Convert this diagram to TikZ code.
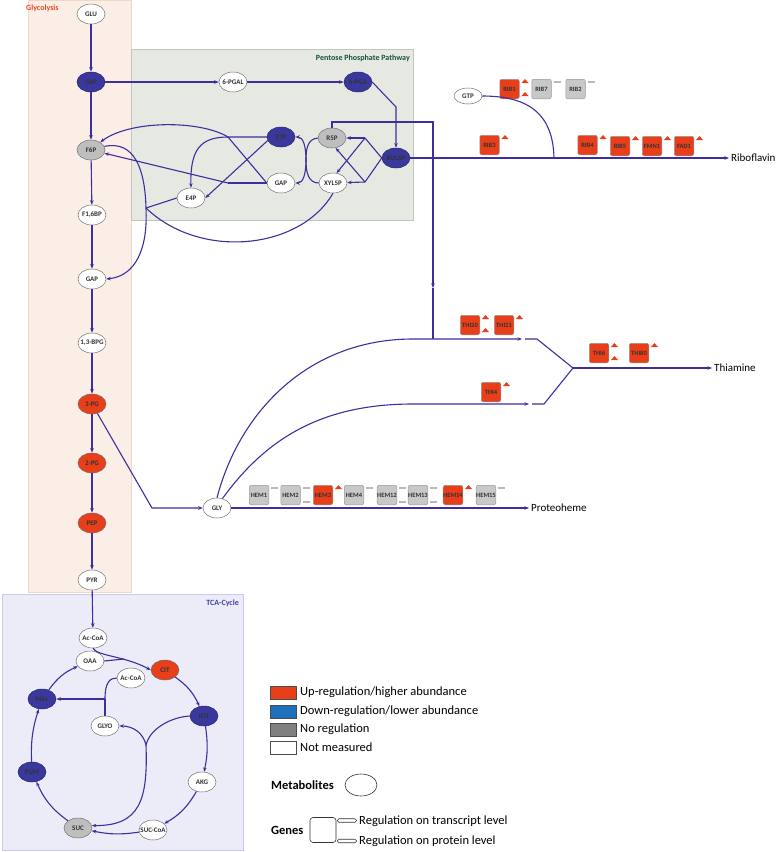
\documentclass[tikz,border=0pt]{standalone}
\usepackage{fontspec}
\setmainfont{Carlito}
\usetikzlibrary{shapes.geometric,arrows.meta}

\definecolor{fluxblue}{RGB}{62,46,158}
\definecolor{metblue}{RGB}{58,56,156}
\definecolor{upred}{RGB}{232,62,26}
\definecolor{legblue}{RGB}{31,111,186}
\definecolor{metgrey}{RGB}{190,190,190}
\definecolor{genegrey}{RGB}{200,200,200}
\definecolor{bargrey}{RGB}{185,185,185}
\definecolor{glycobg}{RGB}{251,238,230}
\definecolor{pppbg}{RGB}{229,233,225}
\definecolor{tcabg}{RGB}{236,235,248}
\definecolor{glycotitle}{RGB}{232,72,36}
\definecolor{ppptitle}{RGB}{22,82,60}
\definecolor{tcatitle}{RGB}{64,64,170}

% regulation marks beside a gene box
\newcommand{\uptri}[2]{\fill[upred] ([shift={(2,#2)}]#1.east) -- ++(7,0) -- ++(-3.5,-4) -- cycle;}
\newcommand{\flatbar}[2]{\fill[bargrey] ([shift={(2,#2)}]#1.east) rectangle ++(7,2);}

\begin{document}
\begin{tikzpicture}[x=1pt, y=-1pt,
        metab/.style={ellipse, draw=black!55, line width=0.5pt, fill=white, minimum width=28pt, minimum height=20pt, inner xsep=-4pt, inner ysep=0pt, font=\fontsize{7}{8}\selectfont\bfseries, text=black!80},
        upreg/.style={fill=upred},
        downreg/.style={fill=metblue, draw=metblue!70!black},
        noreg/.style={fill=metgrey},
        genebox/.style={rectangle, rounded corners=2pt, draw=black!40, line width=0.5pt, minimum size=19.5pt, inner sep=0pt, font=\fontsize{6.5}{7}\selectfont\bfseries, text=black!80},
        flow/.style={draw=fluxblue, line width=1.1pt, -{Stealth[length=4.5pt,width=3.5pt]}},
        link/.style={draw=fluxblue, line width=1.1pt},
        endlabel/.style={anchor=west, inner sep=2pt, font=\fontsize{11}{13}\selectfont},
        legtext/.style={anchor=west, inner sep=0pt, font=\fontsize{12.5}{14}\selectfont},
        legbox/.style={rectangle, draw=black!70, line width=0.6pt, minimum width=26pt, minimum height=13pt, inner sep=0pt},
        pill/.style={rectangle, rounded corners=1.5pt, draw=black!80, line width=0.6pt, minimum width=19pt, minimum height=3.5pt, inner sep=0pt},
        areatitle/.style={font=\fontsize{8}{9}\selectfont\bfseries, inner sep=0pt}
    ]
    \useasboundingbox (0,0) rectangle (778,852);

    % pathway areas
    \filldraw[fill=glycobg, draw=glycobg!80!brown] (28,0) rectangle (131,592);
    \filldraw[fill=pppbg, draw=pppbg!85!black] (131,49) rectangle (413,220);
    \filldraw[fill=tcabg, draw=tcabg!85!blue] (2,594) rectangle (243,850);
    \node[areatitle, text=glycotitle, anchor=west] (tGly) at (26,8) {Glycolysis};
    \node[areatitle, text=ppptitle, anchor=east] (tPpp) at (410,58) {Pentose Phosphate Pathway};
    \node[areatitle, text=tcatitle, anchor=east] (tTca) at (239,603) {TCA-Cycle};

    % glycolysis
    \node[metab] (glu) at (91,14) {GLU};
    \node[metab, downreg] (g6p) at (91,82) {G6P};
    \node[metab, noreg] (f6p) at (91,150) {F6P};
    \node[metab] (f16bp) at (92,215) {F1,6BP};
    \node[metab] (gap) at (92,279) {GAP};
    \node[metab] (bpg) at (92,343) {1,3-BPG};
    \node[metab, upreg] (pg3) at (92,404) {3-PG};
    \node[metab, upreg] (pg2) at (92,463) {2-PG};
    \node[metab, upreg] (pep) at (92,523) {PEP};
    \node[metab] (pyr) at (92,580) {PYR};

    % pentose phosphate pathway
    \node[metab] (pgal) at (233,82) {6-PGAL};
    \node[metab, downreg] (pga) at (358,82) {6-PGA};
    \node[metab, downreg] (s7p) at (281,137) {S7P};
    \node[metab, noreg] (r5p) at (332,138) {R5P};
    \node[metab, downreg] (rul5p) at (396,158) {RUL5P};
    \node[metab] (gapp) at (281,183) {GAP};
    \node[metab] (xyl5p) at (333,183) {XYL5P};
    \node[metab] (e4p) at (191,198) {E4P};

    % TCA cycle
    \node[metab] (acoa) at (93,638) {Ac-CoA};
    \node[metab] (oaa) at (90,661) {OAA};
    \node[metab, upreg] (cit) at (165,670) {CIT};
    \node[metab] (acoab) at (131,678) {Ac-CoA};
    \node[metab, downreg] (mal) at (42,699) {MAL};
    \node[metab, downreg] (icit) at (204,716) {ICIT};
    \node[metab] (glyo) at (105,726) {GLYO};
    \node[metab, downreg] (fum) at (32,772) {FUM};
    \node[metab] (akg) at (202,782) {AKG};
    \node[metab, noreg] (suc) at (78,828) {SUC};
    \node[metab] (succoa) at (153,830) {SUC-CoA};

    \node[metab] (gly) at (217,508) {GLY};
    \node[metab, minimum height=16pt] (gtp) at (468,96) {GTP};

    % end products
    \node[endlabel] (ribo) at (729,158) {Riboflavin};
    \node[endlabel] (thia) at (712,368) {Thiamine};
    \node[endlabel] (proto) at (529,508) {Proteoheme};

    % riboflavin genes
    \node[genebox, fill=upred] (rib1) at (509.5,89) {RIB1};
    \node[genebox, fill=genegrey] (rib7) at (541.5,89) {RIB7};
    \node[genebox, fill=genegrey] (rib2) at (575.5,89) {RIB2};
    \node[genebox, fill=upred] (rib3) at (489.5,145) {RIB3};
    \node[genebox, fill=upred] (rib4) at (587.5,145) {RIB4};
    \node[genebox, fill=upred] (rib5) at (620,146) {RIB5};
    \node[genebox, fill=upred] (fmn1) at (652,146) {FMN1};
    \node[genebox, fill=upred] (fad1) at (684,146) {FAD1};
    \uptri{rib1}{-6} \uptri{rib1}{7}
    \flatbar{rib7}{-8} \flatbar{rib2}{-8}
    \foreach \g in {rib3, rib4, rib5, fmn1, fad1} \uptri{\g}{-6};

    % thiamine genes
    \node[genebox, fill=upred] (thi20) at (470,325) {THI20};
    \node[genebox, fill=upred] (thi21) at (504,325) {THI21};
    \node[genebox, fill=upred] (thi6) at (599,353) {THI6};
    \node[genebox, fill=upred] (thi80) at (639,353) {THI80};
    \node[genebox, fill=upred] (thi4) at (491,392) {THI4};
    \foreach \g in {thi20, thi21, thi6, thi80, thi4} \uptri{\g}{-6};
    \uptri{thi20}{7} \uptri{thi6}{7}

    % heme genes
    \foreach \g/\t/\x/\c in {hem1/HEM1/259/genegrey, hem2/HEM2/290.5/genegrey, hem3/HEM3/323/upred, hem4/HEM4/354/genegrey, hem12/HEM12/387/genegrey, hem13/HEM13/418/genegrey, hem14/HEM14/453/upred, hem15/HEM15/486/genegrey}
        \node[genebox, fill=\c] (\g) at (\x,495) {\t};
    \foreach \g in {hem1, hem2, hem4, hem12, hem13, hem15} \flatbar{\g}{-8};
    \foreach \g in {hem2, hem12, hem13} \flatbar{\g}{6};
    \uptri{hem3}{-6} \uptri{hem14}{-6}

    % glycolysis flux
    \foreach \a/\b in {glu/g6p, g6p/f6p, f6p/f16bp, f16bp/gap, gap/bpg, bpg/pg3, pg3/pg2, pg2/pep, pep/pyr, pyr/acoa}
        \draw[flow] (\a) -- (\b);

    % oxidative branch
    \coordinate (pgaKnee) at (396,107);
    \draw[flow] (g6p) -- (pgal);
    \draw[flow] (pgal) -- (pga);
    \draw[flow] (pga.east) -- (pgaKnee) -- (rul5p);

    % RUL5P to R5P / XYL5P
    \coordinate (rulUp) at (365,138);
    \coordinate (rulDn) at (365,182);
    \draw[link] (rul5p.west) -- (rulUp);
    \draw[link] (rul5p.west) -- (rulDn);
    \draw[flow] (rulUp) -- (r5p);
    \draw[flow] (rulDn) -- (xyl5p);
    \draw[flow] (rulUp) -- (xyl5p.70);
    \draw[flow] (rulDn) -- (r5p.-70);

    % transketolase
    \coordinate (tkMid) at (306,160);
    \draw[link] (r5p.west) .. controls (307,139) and (306,150) .. (tkMid) .. controls (306,172) and (308,183) .. (xyl5p.west);
    \draw[flow] (tkMid) .. controls (306,146) and (303,137) .. (s7p.east);
    \draw[flow] (tkMid) .. controls (306,174) and (303,183) .. (gapp.east);

    % transaldolase
    \coordinate (taTop) at (228,137);
    \coordinate (taBot) at (228,183);
    \draw[link] (s7p.west) -- (taTop) -- (gapp.west);
    \draw[link] (gapp.west) -- (taBot);
    \draw[flow] (taBot) -- (f6p);
    \draw[flow] (s7p.195) -- (e4p.east);
    \draw[flow] (taTop) .. controls (200,120) and (130,120) .. (f6p.40);
    \draw[flow] (taTop) .. controls (200,137) and (190,150) .. (e4p.north);

    % E4P + XYL5P back to glycolysis
    \coordinate (tkJoin) at (146,208);
    \draw[link] (e4p.west) -- (tkJoin);
    \draw[link] (xyl5p.south) .. controls (300,250) and (200,260) .. (tkJoin);
    \draw[link] (f6p.15) .. controls (135,140) and (145,170) .. (tkJoin);
    \draw[flow] (tkJoin) .. controls (148,250) and (135,276) .. (gap.east);

    % riboflavin
    \coordinate (gtpJoin) at (554,158);
    \draw[flow] (rul5p) -- (ribo);
    \draw[link] (gtp.east) .. controls (530,96) and (553,115) .. (gtpJoin);

    % R5P towards thiamine
    \coordinate (vTop) at (433,122);
    \coordinate (vMid) at (433,288);
    \coordinate (vJoin) at (433,339);
    \draw[flow] (r5p.north) |- (vTop) -- (vMid);
    \draw[link] (vMid) -- (vJoin);

    % thiamine
    \coordinate (thiUpFlat) at (413,339);
    \coordinate (thiUpEnd) at (522,339);
    \coordinate (thiUpGo) at (525,339);
    \coordinate (thiUpKnee) at (537,339);
    \coordinate (thiLowFlat) at (413,404);
    \coordinate (thiLowEnd) at (529,404);
    \coordinate (thiLowGo) at (532,404);
    \coordinate (thiLowKnee) at (544,404);
    \coordinate (thiJoin) at (573,368);
    \draw[flow] (gly.north) .. controls (240,410) and (310,339) .. (thiUpFlat) -- (thiUpEnd);
    \draw[link] (thiUpGo) -- (thiUpKnee) -- (thiJoin);
    \draw[flow] (gly.60) .. controls (265,440) and (320,404) .. (thiLowFlat) -- (thiLowEnd);
    \draw[link] (thiLowGo) -- (thiLowKnee) -- (thiJoin);
    \draw[flow] (thiJoin) -- (thia);

    % glycine and heme
    \coordinate (glyKnee) at (152,508);
    \draw[flow] (pg3) -- (glyKnee) -- (gly);
    \draw[flow] (gly) -- (proto);

    % TCA cycle
    \coordinate (citIn) at (124,659);
    \draw[flow] (acoa.south) .. controls (97,656) and (125,656) .. (cit.west);
    \draw[link] (oaa.east) -- (citIn);
    \draw[flow] (cit) to[bend left=15] (icit);
    \draw[flow] (icit) to[bend left=10] (akg);
    \draw[flow] (akg) to[bend left=15] (succoa);
    \draw[flow] (succoa) to[bend left=10] (suc);
    \draw[flow] (suc) to[bend left=15] (fum);
    \draw[flow] (fum) to[bend left=10] (mal);
    \draw[flow] (mal) to[bend left=15] (oaa);

    % glyoxylate shunt
    \coordinate (glyoJoin) at (105,699);
    \coordinate (icJoin) at (146,745);
    \draw[link] (acoab.west) .. controls (110,678) and (105,682) .. (glyoJoin);
    \draw[link] (glyo) -- (glyoJoin);
    \draw[flow] (glyoJoin) -- (mal);
    \draw[link] (icit.west) .. controls (172,717) and (150,728) .. (icJoin);
    \draw[flow] (icJoin) .. controls (143,732) and (132,726) .. (glyo.east);
    \draw[flow] (icJoin) .. controls (148,800) and (140,826) .. (suc.10);

    % legend
    \node[legbox, fill=upred] (kUp) at (283,692.5) {};
    \node[legbox, fill=legblue] (kDown) at (283,711.5) {};
    \node[legbox, fill=black!50] (kNo) at (283,729.5) {};
    \node[legbox, fill=white] (kNot) at (283,748) {};
    \node[legtext] (kUpTxt) at (300,692) {Up-regulation/higher abundance};
    \node[legtext] (kDownTxt) at (300,711.5) {Down-regulation/lower abundance};
    \node[legtext] (kNoTxt) at (300,729.5) {No regulation};
    \node[legtext] (kNotTxt) at (300,747.5) {Not measured};
    \node[legtext, font=\fontsize{12.5}{14}\selectfont\bfseries] (kMet) at (271,785) {Metabolites};
    \node[ellipse, draw=black!80, line width=0.6pt, minimum width=32pt, minimum height=22pt] (kEll) at (361,785) {};
    \node[legtext, font=\fontsize{12.5}{14}\selectfont\bfseries] (kGen) at (271,830) {Genes};
    \node[rectangle, rounded corners=3pt, draw=black!80, line width=0.6pt, minimum width=26pt, minimum height=25pt] (kBox) at (323,830) {};
    \node[pill] (kTr) at (347,820.5) {};
    \node[pill] (kPr) at (347,841) {};
    \node[legtext] (kTrTxt) at (359,821) {Regulation on transcript level};
    \node[legtext] (kPrTxt) at (359,841) {Regulation on protein level};
\end{tikzpicture}
\end{document}
